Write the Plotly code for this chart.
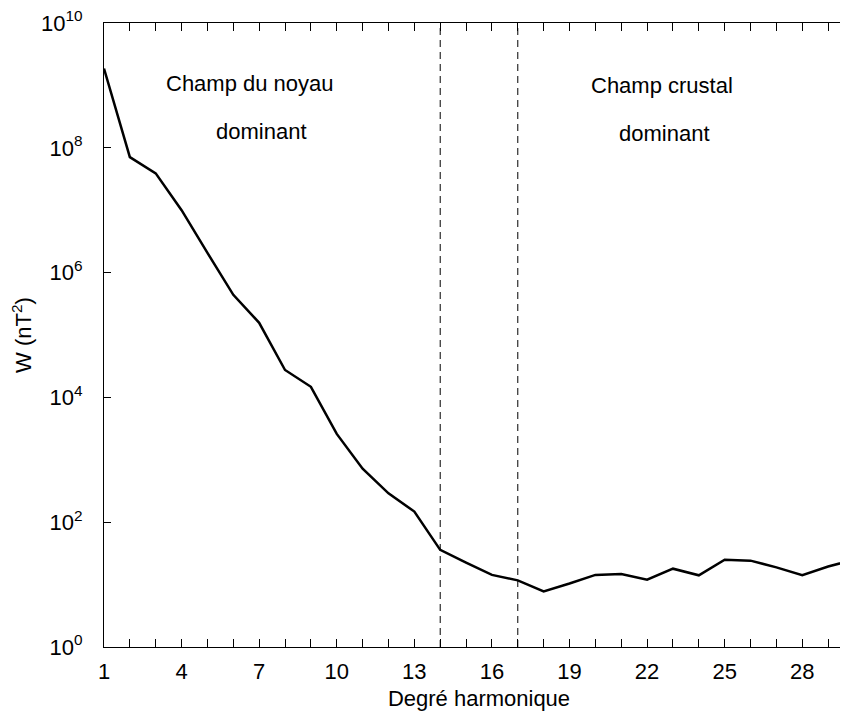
import plotly.graph_objects as go

# Data
degrees = list(range(1, 31))
W_values = [1.86e9, 7.1e7, 3.9e7, 1.0e7, 2.07e6, 4.4e5, 1.57e5, 2.75e4, 1.48e4, 2.6e3,
            7.2e2, 2.9e2, 1.48e2, 36.0, 22.4, 14.3, 11.7, 7.8, 10.4, 14.3,
            14.8, 12.0, 18.0, 14.1, 25.1, 24.2, 18.9, 14.1, 19.5, 25.0]
y_tickvals = [1e0, 1e2, 1e4, 1e6, 1e8, 1e10]
y_ticktext = ["10<sup>0</sup>", "10<sup>2</sup>", "10<sup>4</sup>", "10<sup>6</sup>",
              "10<sup>8</sup>", "10<sup>10</sup>"]
x_tickvals = [1, 4, 7, 10, 13, 16, 19, 22, 25, 28]
boundaries = [14, 17]
x_title = "Degré harmonique"
y_title = "W (nT<sup>2</sup>)"
region_labels = [("Champ du noyau", "dominant"), ("Champ crustal", "dominant")]

FONT = "Liberation Sans, Arial, sans-serif"

# page is offset by the default 8px body margin: compensate in margins
W, H = 848, 711
L, T = 104 - 8, 22.5 - 8
PLOT_B = 647.5 - 8
PLOT_R = 854.5 - 8
R = W - PLOT_R
B = H - PLOT_B

fig = go.Figure()
fig.add_trace(go.Scatter(x=degrees, y=W_values, mode="lines",
                         line=dict(color="black", width=2.5), showlegend=False,
                         hoverinfo="skip"))
# invisible trace to activate right-side tick axis
fig.add_trace(go.Scatter(x=degrees, y=W_values, mode="lines", yaxis="y2",
                         line=dict(color="rgba(0,0,0,0)", width=1), showlegend=False,
                         hoverinfo="skip"))

for b in boundaries:
    fig.add_shape(type="line", xref="x", yref="paper", x0=b, x1=b, y0=0, y1=1,
                  line=dict(color="black", width=1, dash="7px,5px"))

def px2paper_y(py):
    return (647.5 - py) / 625.0

def px2x(px):
    return 1 + (px - 104) / 25.88

ann_pos = [((250.5, 83.5), (261.7, 131.3)), ((662, 85), (664.7, 133.5))]
for (l1, l2), ((ax1, ay1), (ax2, ay2)) in zip(region_labels, ann_pos):
    fig.add_annotation(text=l1, x=px2x(ax1), y=px2paper_y(ay1), xref="x", yref="paper",
                       showarrow=False, xanchor="center", yanchor="middle",
                       font=dict(size=22, color="black", family=FONT))
    fig.add_annotation(text=l2, x=px2x(ax2), y=px2paper_y(ay2), xref="x", yref="paper",
                       showarrow=False, xanchor="center", yanchor="middle",
                       font=dict(size=22, color="black", family=FONT))

fig.update_layout(
    width=W, height=H,
    margin=dict(l=L, r=R, t=T, b=B, pad=0, autoexpand=False),
    paper_bgcolor="white", plot_bgcolor="white",
    font=dict(family=FONT, size=22, color="black"),
    xaxis=dict(range=[1, 30], tickvals=x_tickvals, ticks="inside", ticklen=8,
               tickwidth=1, tickcolor="black", showline=True, linecolor="black", linewidth=1,
               mirror="allticks", showgrid=False, zeroline=False,
               minor=dict(dtick=1, tick0=1, ticks="inside", ticklen=4, tickcolor="black",
                          tickwidth=1, showgrid=False),
               title=dict(text=x_title, standoff=7, font=dict(size=22)),
               tickfont=dict(size=22), ticklabelstandoff=5, ticklabeloverflow="allow"),
    yaxis=dict(type="log", range=[0, 10], tickvals=y_tickvals, ticktext=y_ticktext,
               ticks="inside", ticklen=7, tickwidth=1, tickcolor="black",
               showline=True, linecolor="black", linewidth=1, showgrid=False, zeroline=False,
               title=dict(text=y_title, standoff=11, font=dict(size=22)),
               tickfont=dict(size=22), ticklabelstandoff=16, ticklabeloverflow="allow"),
    yaxis2=dict(type="log", range=[0, 10], overlaying="y", side="right", tickvals=y_tickvals,
                ticks="inside", ticklen=8, tickwidth=1, tickcolor="black", showticklabels=False,
                showline=False, showgrid=False, zeroline=False),
)

fig.write_html("out.html")
